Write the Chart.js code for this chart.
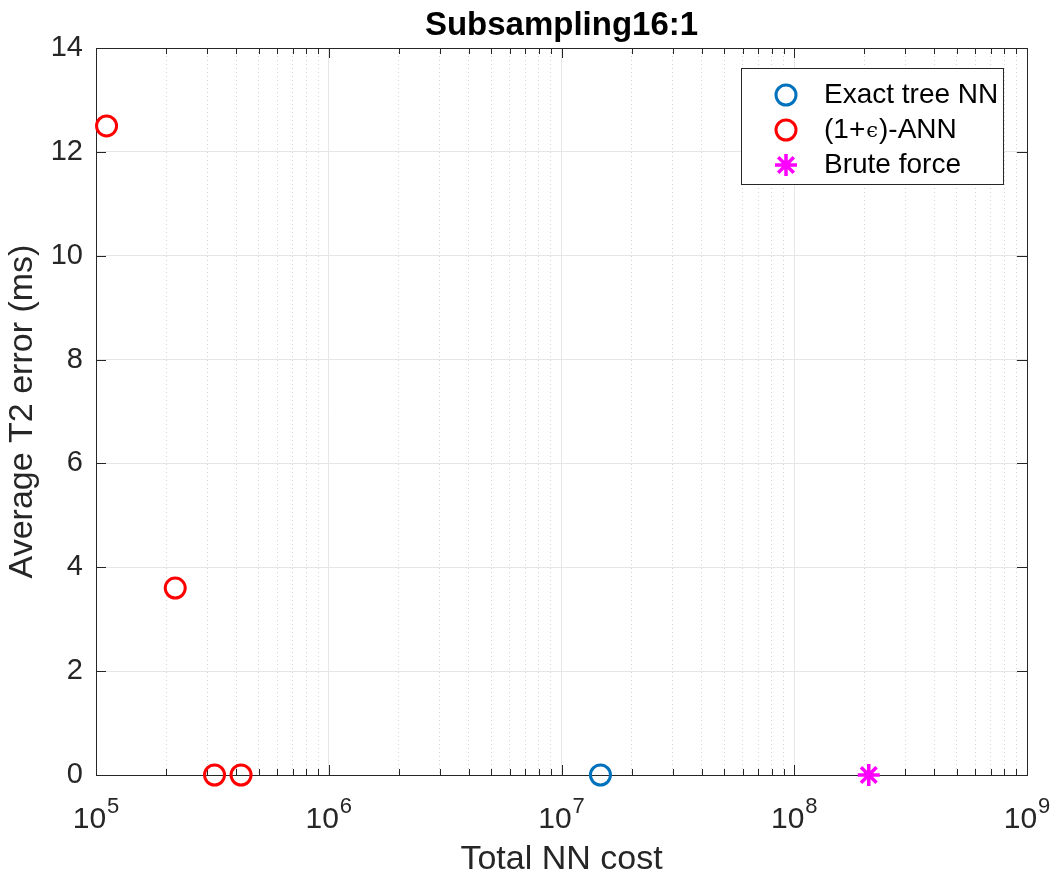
<!DOCTYPE html>
<html>
<head>
<meta charset="utf-8">
<script src="https://cdn.jsdelivr.net/npm/chart.js@4/dist/chart.umd.min.js"></script>
<style>
  html, body { margin: 0; padding: 0; background: #fff; }
  #wrap { width: 1053px; height: 882px; }
</style>
</head>
<body>
<div id="wrap"><canvas id="chart" width="1053" height="882"></canvas></div>
<script>
// Data
var exactCost = [1.47e7];
var exactErr = [0];
var annCost = [1.11e5, 2.19e5, 3.23e5, 4.2e5];
var annErr = [12.5, 3.6, 0, 0];
var bruteCost = [2.09e8];
var bruteErr = [0];

var decades = [5, 6, 7, 8, 9];
var yTicks = [0, 2, 4, 6, 8, 10, 12, 14];

var FONT = '"Liberation Sans", Arial, sans-serif';
var AXIS = '#262626';

function toPoints(xs, ys) {
  return xs.map(function(x, i) { return { x: x, y: ys[i] }; });
}

// all 1..9 x 10^n values for the log axis (major + minor)
var logTicks = [];
decades.forEach(function(d, i) {
  var base = Math.pow(10, d);
  if (i === decades.length - 1) { logTicks.push(base); return; }
  for (var m = 1; m <= 9; m++) logTicks.push(m * base);
});

function isMajor(v) {
  var l = Math.log10(v);
  return Math.abs(l - Math.round(l)) < 1e-9;
}

// box, inward tick marks, and superscript tick labels
var axesPlugin = {
  id: 'axesPlugin',
  beforeDatasetsDraw: function(chart) {
    var ctx = chart.ctx, a = chart.chartArea;
    var xs = chart.scales.x, ys = chart.scales.y;
    ctx.save();
    ctx.strokeStyle = AXIS;
    ctx.lineWidth = 1;
    ctx.strokeRect(Math.round(a.left) + 0.5, Math.round(a.top) + 0.5,
      Math.round(a.right - a.left), Math.round(a.bottom - a.top));
    ctx.beginPath();
    logTicks.forEach(function(v) {
      var px = Math.round(xs.getPixelForValue(v)) + 0.5;
      var len = isMajor(v) ? 10 : 6;
      ctx.moveTo(px, a.bottom); ctx.lineTo(px, a.bottom - len);
      ctx.moveTo(px, a.top); ctx.lineTo(px, a.top + len);
    });
    yTicks.forEach(function(v) {
      var py = Math.round(ys.getPixelForValue(v)) + 0.5;
      ctx.moveTo(a.left, py); ctx.lineTo(a.left + 10, py);
      ctx.moveTo(a.right, py); ctx.lineTo(a.right - 10, py);
    });
    ctx.stroke();

    ctx.fillStyle = AXIS;
    ctx.textBaseline = 'alphabetic';
    ctx.textAlign = 'left';
    decades.forEach(function(d) {
      var px = xs.getPixelForValue(Math.pow(10, d));
      ctx.font = '30px ' + FONT;
      var w = ctx.measureText('10').width;
      ctx.font = '22px ' + FONT;
      var we = ctx.measureText(String(d)).width;
      var x0 = px - (w + 1 + we) / 2;
      ctx.font = '30px ' + FONT;
      ctx.fillText('10', x0, 828);
      ctx.font = '22px ' + FONT;
      ctx.fillText(String(d), x0 + w + 1, 813);
    });
    ctx.restore();
  },
  afterDraw: function(chart) {
    var ctx = chart.ctx;
    ctx.save();
    ctx.fillStyle = '#fff';
    ctx.strokeStyle = AXIS;
    ctx.lineWidth = 1;
    ctx.fillRect(741, 68, 263, 117);
    ctx.strokeRect(741.5, 68.5, 262, 116);

    var rows = [95, 130, 165];
    var mx = 786, tx = 824;
    ctx.lineWidth = 3;
    ctx.strokeStyle = '#0072BD';
    ctx.beginPath(); ctx.arc(mx, rows[0], 10, 0, Math.PI * 2); ctx.stroke();
    ctx.strokeStyle = '#FF0000';
    ctx.beginPath(); ctx.arc(mx, rows[1], 10, 0, Math.PI * 2); ctx.stroke();
    ctx.strokeStyle = '#FF00FF';
    ctx.lineWidth = 3.5;
    ctx.beginPath();
    for (var k = 0; k < 4; k++) {
      var ang = k * Math.PI / 4;
      ctx.moveTo(mx - 11 * Math.cos(ang), rows[2] - 11 * Math.sin(ang));
      ctx.lineTo(mx + 11 * Math.cos(ang), rows[2] + 11 * Math.sin(ang));
    }
    ctx.stroke();

    ctx.fillStyle = '#000';
    ctx.textBaseline = 'middle';
    ctx.textAlign = 'left';
    ctx.font = '28px ' + FONT;
    ctx.fillText('Exact tree NN', tx, rows[0]);
    ctx.fillText('Brute force', tx, rows[2]);
    var s1 = '(1+';
    ctx.fillText(s1, tx, rows[1]);
    var x2 = tx + ctx.measureText(s1).width;
    ctx.font = '21px "DejaVu Serif", serif';
    ctx.fillText('\u03F5', x2 + 1, rows[1] + 2);
    var x3 = x2 + ctx.measureText('\u03F5').width + 2;
    ctx.font = '28px ' + FONT;
    ctx.fillText(')-ANN', x3, rows[1]);
    ctx.restore();
  }
};

var ctx = document.getElementById('chart').getContext('2d');
new Chart(ctx, {
  type: 'scatter',
  data: {
    datasets: [
      {
        label: 'Exact tree NN',
        data: toPoints(exactCost, exactErr),
        pointStyle: 'circle',
        pointRadius: 10,
        borderWidth: 3,
        borderColor: '#0072BD',
        backgroundColor: 'rgba(0,0,0,0)',
        clip: false
      },
      {
        label: '(1+\u03F5)-ANN',
        data: toPoints(annCost, annErr),
        pointStyle: 'circle',
        pointRadius: 10,
        borderWidth: 3,
        borderColor: '#FF0000',
        backgroundColor: 'rgba(0,0,0,0)',
        clip: false
      },
      {
        label: 'Brute force',
        data: toPoints(bruteCost, bruteErr),
        pointStyle: 'star',
        pointRadius: 11,
        borderWidth: 3.5,
        borderColor: '#FF00FF',
        backgroundColor: '#FF00FF',
        clip: false
      }
    ]
  },
  options: {
    responsive: false,
    animation: false,
    events: [],
    layout: { padding: { top: 0, right: 26, bottom: 0, left: 0 } },
    plugins: {
      legend: { display: false },
      tooltip: { enabled: false },
      title: {
        display: true,
        fullSize: false,
        text: 'Subsampling16:1',
        color: '#000',
        font: { family: FONT, size: 33, weight: 'bold' },
        padding: { top: 6, bottom: 2.4 }
      }
    },
    scales: {
      x: {
        type: 'logarithmic',
        min: 1e5,
        max: 1e9,
        afterBuildTicks: function(s) {
          s.ticks = logTicks.map(function(v) { return { value: v, major: isMajor(v) }; });
        },
        afterFit: function(s) { s.height = 107; },
        ticks: { display: false },
        grid: {
          drawTicks: false,
          color: function(c) { return c.tick && isMajor(c.tick.value) ? '#e6e6e6' : '#d4d4d4'; },
          lineWidth: 1
        },
        border: {
          display: false,
          dash: function(c) { return c.tick && isMajor(c.tick.value) ? [] : [1, 3]; }
        },
        title: {
          display: true,
          text: 'Total NN cost',
          color: AXIS,
          font: { family: FONT, size: 34 },
          padding: { top: 0, bottom: 2 }
        }
      },
      y: {
        min: 0,
        max: 14,
        afterBuildTicks: function(s) {
          s.ticks = yTicks.map(function(v) { return { value: v }; });
        },
        afterFit: function(s) { s.width = 96; },
        ticks: {
          color: AXIS,
          padding: 13,
          font: { family: FONT, size: 29 }
        },
        grid: { drawTicks: false, color: '#e6e6e6', lineWidth: 1 },
        border: { display: false },
        title: {
          display: true,
          text: 'Average T2 error (ms)',
          color: AXIS,
          font: { family: FONT, size: 34 },
          padding: { top: 2, bottom: 0 }
        }
      }
    }
  },
  plugins: [axesPlugin]
});
</script>
</body>
</html>
